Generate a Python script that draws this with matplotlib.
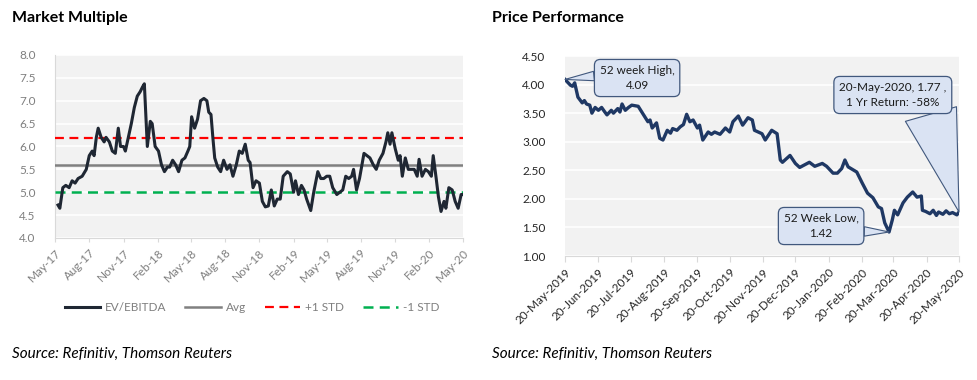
import matplotlib
matplotlib.use("Agg")
import matplotlib.pyplot as plt
import matplotlib.dates as mdates
import pandas as pd

plt.rcParams['font.family'] = ['Lato', 'DejaVu Sans']

# ---- Market multiple (EV/EBITDA)
mm_dates = [
    "2017-05-09", "2017-05-14", "2017-05-22", "2017-05-30", "2017-06-08", "2017-06-16",
    "2017-06-24", "2017-07-02", "2017-07-13", "2017-07-24", "2017-08-01", "2017-08-09",
    "2017-08-14", "2017-08-20", "2017-08-25", "2017-09-02", "2017-09-10", "2017-09-15",
    "2017-09-24", "2017-10-02", "2017-10-10", "2017-10-18", "2017-10-24", "2017-11-01",
    "2017-11-06", "2017-11-14", "2017-11-22", "2017-11-30", "2017-12-08", "2017-12-16",
    "2017-12-22", "2017-12-27", "2018-01-04", "2018-01-12", "2018-01-17", "2018-01-25",
    "2018-02-03", "2018-02-11", "2018-02-19", "2018-02-27", "2018-03-05", "2018-03-13",
    "2018-03-21", "2018-03-29", "2018-04-07", "2018-04-15", "2018-04-23", "2018-04-28",
    "2018-05-03", "2018-05-11", "2018-05-19", "2018-05-27", "2018-06-05", "2018-06-13",
    "2018-06-18", "2018-06-24", "2018-06-29", "2018-07-04", "2018-07-12", "2018-07-20",
    "2018-07-28", "2018-08-06", "2018-08-14", "2018-08-22", "2018-08-31", "2018-09-08",
    "2018-09-16", "2018-09-24", "2018-10-02", "2018-10-07", "2018-10-15", "2018-10-23",
    "2018-11-01", "2018-11-09", "2018-11-17", "2018-11-25", "2018-12-03", "2018-12-11",
    "2018-12-19", "2018-12-27", "2019-01-04", "2019-01-15", "2019-01-23", "2019-02-01",
    "2019-02-06", "2019-02-14", "2019-02-22", "2019-03-01", "2019-03-08", "2019-03-19",
    "2019-03-27", "2019-04-07", "2019-04-15", "2019-04-23", "2019-05-01", "2019-05-09",
    "2019-05-17", "2019-05-28", "2019-06-05", "2019-06-13", "2019-06-21", "2019-06-29",
    "2019-07-07", "2019-07-12", "2019-07-20", "2019-07-28", "2019-08-09", "2019-08-17",
    "2019-08-25", "2019-09-03", "2019-09-11", "2019-09-19", "2019-09-29", "2019-10-07",
    "2019-10-12", "2019-10-18", "2019-10-23", "2019-11-01", "2019-11-09", "2019-11-14",
    "2019-11-20", "2019-11-28", "2019-12-06", "2019-12-14", "2019-12-22", "2019-12-30",
    "2020-01-04", "2020-01-12", "2020-01-21", "2020-01-29", "2020-02-06", "2020-02-11",
    "2020-02-19", "2020-02-25", "2020-03-03", "2020-03-11", "2020-03-16", "2020-03-24",
    "2020-04-02", "2020-04-10", "2020-04-18", "2020-04-26", "2020-05-01",
]
ev_ebitda = [
    4.72, 4.65, 5.10, 5.15, 5.10, 5.25,
    5.20, 5.30, 5.35, 5.50, 5.80, 5.90,
    5.80, 6.20, 6.40, 6.20, 6.10, 6.20,
    6.10, 5.90, 5.85, 6.40, 6.00, 6.00,
    5.90, 6.20, 6.50, 6.85, 7.10, 7.20,
    7.30, 7.37, 6.00, 6.55, 6.50, 6.00,
    5.90, 5.60, 5.45, 5.55, 5.55, 5.70,
    5.60, 5.45, 5.70, 5.75, 5.90, 6.00,
    6.65, 6.40, 6.60, 7.00, 7.05, 7.00,
    6.75, 6.70, 6.20, 5.75, 5.55, 5.45,
    5.70, 5.50, 5.60, 5.35, 5.60, 5.90,
    5.85, 6.05, 5.70, 5.65, 5.10, 5.25,
    5.20, 4.80, 4.68, 4.70, 5.05, 4.70,
    4.85, 4.85, 5.35, 5.45, 5.40, 5.00,
    5.25, 4.95, 5.15, 5.05, 4.85, 4.60,
    5.00, 5.45, 5.30, 5.30, 5.35, 5.35,
    5.10, 4.95, 5.00, 5.05, 5.35, 5.30,
    5.35, 5.50, 5.05, 5.30, 5.85, 5.80,
    5.75, 5.60, 5.50, 5.70, 5.85, 6.10,
    6.30, 6.05, 6.30, 5.95, 5.70, 5.80,
    5.35, 5.75, 5.50, 5.50, 5.50, 5.35,
    5.72, 5.35, 5.50, 5.45, 5.35, 5.80,
    5.30, 4.90, 4.58, 4.80, 4.65, 5.10,
    5.05, 4.80, 4.65, 4.95, 4.95,
]
mm_avg = 5.60
mm_std = 0.59

# ---- Price performance
px_dates = [
    "2019-05-20", "2019-05-25", "2019-05-27", "2019-05-29", "2019-06-01", "2019-06-05",
    "2019-06-07", "2019-06-09", "2019-06-12", "2019-06-14", "2019-06-17", "2019-06-20",
    "2019-06-23", "2019-06-26", "2019-06-28", "2019-07-02", "2019-07-04", "2019-07-08",
    "2019-07-10", "2019-07-12", "2019-07-15", "2019-07-18", "2019-07-21", "2019-07-27",
    "2019-07-31", "2019-08-05", "2019-08-07", "2019-08-09", "2019-08-13", "2019-08-16",
    "2019-08-19", "2019-08-23", "2019-08-26", "2019-08-28", "2019-09-01", "2019-09-04",
    "2019-09-07", "2019-09-10", "2019-09-13", "2019-09-16", "2019-09-20", "2019-09-22",
    "2019-09-25", "2019-09-30", "2019-10-03", "2019-10-06", "2019-10-11", "2019-10-16",
    "2019-10-20", "2019-10-23", "2019-10-28", "2019-11-01", "2019-11-06", "2019-11-10",
    "2019-11-12", "2019-11-19", "2019-11-22", "2019-11-28", "2019-12-03", "2019-12-06",
    "2019-12-08", "2019-12-15", "2019-12-20", "2019-12-24", "2020-01-02", "2020-01-07",
    "2020-01-14", "2020-01-18", "2020-01-24", "2020-01-28", "2020-02-01", "2020-02-04",
    "2020-02-07", "2020-02-15", "2020-02-20", "2020-02-25", "2020-03-01", "2020-03-06",
    "2020-03-09", "2020-03-12", "2020-03-16", "2020-03-19", "2020-03-21", "2020-03-24",
    "2020-03-29", "2020-04-02", "2020-04-07", "2020-04-11", "2020-04-15", "2020-04-16",
    "2020-04-19", "2020-04-23", "2020-04-26", "2020-04-29", "2020-05-01", "2020-05-05",
    "2020-05-08", "2020-05-11", "2020-05-14", "2020-05-18", "2020-05-20",
]
price = [
    4.09, 3.99, 3.97, 4.03, 3.78, 3.68,
    3.72, 3.66, 3.64, 3.50, 3.60, 3.55,
    3.60, 3.52, 3.47, 3.55, 3.50, 3.58,
    3.52, 3.66, 3.55, 3.60, 3.64, 3.62,
    3.50, 3.35, 3.38, 3.24, 3.33, 3.06,
    3.03, 3.20, 3.15, 3.23, 3.20, 3.26,
    3.30, 3.48, 3.35, 3.38, 3.24, 3.29,
    3.03, 3.17, 3.13, 3.17, 3.13, 3.24,
    3.17, 3.35, 3.45, 3.29, 3.42, 3.38,
    3.20, 3.14, 3.03, 3.20, 3.14, 2.68,
    2.64, 2.76, 2.62, 2.55, 2.64, 2.57,
    2.62, 2.57, 2.45, 2.45, 2.53, 2.68,
    2.56, 2.47, 2.28, 2.10, 2.02, 1.86,
    1.83, 1.58, 1.42, 1.63, 1.80, 1.72,
    1.93, 2.03, 2.12, 2.03, 2.05, 1.80,
    1.78, 1.74, 1.80, 1.71, 1.77, 1.73,
    1.79, 1.74, 1.76, 1.72, 1.77,
]
high_date, high_val = "2019-05-20", 4.09
low_date, low_val = "2020-03-16", 1.42
last_date, last_val = "2020-05-20", 1.77
yr_return = "-58%"

mm_x = pd.to_datetime(mm_dates)
px_x = pd.to_datetime(px_dates)

fig = plt.figure(figsize=(9.77, 3.8), dpi=100)
bg = '#f2f2f2'

# ---------------- left chart
ax1 = fig.add_axes([0.0563, 0.3737, 0.4176, 0.4816])
ax1.set_facecolor(bg)
ax1.plot(mm_x, ev_ebitda, color='#1f2733', lw=2.2, label='EV/EBITDA', zorder=4)
ax1.axhline(mm_avg, color='#808080', lw=1.8, label='Avg', zorder=3)
ax1.axhline(mm_avg + mm_std, color='#ff0000', lw=1.6, ls=(0, (4, 2.5)), label='+1 STD', zorder=3)
ax1.axhline(mm_avg - mm_std, color='#00b050', lw=1.8, ls=(0, (4, 2.5)), label='-1 STD', zorder=3)
ax1.set_ylim(4.0, 8.0)
ax1.set_yticks([4.0, 4.5, 5.0, 5.5, 6.0, 6.5, 7.0, 7.5, 8.0])
ax1.yaxis.set_major_formatter(matplotlib.ticker.FormatStrFormatter('%.1f'))
ax1.set_xlim(pd.Timestamp("2017-05-01"), pd.Timestamp("2020-05-01"))
ax1.xaxis.set_major_locator(mdates.MonthLocator(bymonth=[2, 5, 8, 11]))
ax1.xaxis.set_major_formatter(mdates.DateFormatter('%b-%y'))
ax1.grid(axis='y', color='white', lw=1.2)
ax1.set_axisbelow(True)
for s in ['top', 'right']:
    ax1.spines[s].set_visible(False)
ax1.spines['left'].set_color('#d9d9d9')
ax1.spines['bottom'].set_color('#d9d9d9')
ax1.tick_params(axis='y', length=0, labelsize=8.5, labelcolor='#7f7f7f', pad=14)
ax1.tick_params(axis='x', length=3, color='#d9d9d9', labelsize=8.5, labelcolor='#7f7f7f')
for lab in ax1.get_xticklabels():
    lab.set_rotation(45)
    lab.set_ha('right')
    lab.set_rotation_mode('anchor')
leg = fig.legend(*ax1.get_legend_handles_labels(), loc='center', ncol=4, frameon=False,
                 bbox_to_anchor=(0.258, 0.19), fontsize=8.5, handlelength=3.0,
                 columnspacing=1.6, handletextpad=0.4)
for t in leg.get_texts():
    t.set_color('#7f7f7f')

# ---------------- right chart
ax2 = fig.add_axes([0.5783, 0.3263, 0.4033, 0.5263])
ax2.set_facecolor(bg)
ax2.plot(px_x, price, color='#1f3864', lw=2.4, zorder=4)
ax2.set_ylim(1.0, 4.5)
ax2.set_yticks([1.0, 1.5, 2.0, 2.5, 3.0, 3.5, 4.0, 4.5])
ax2.yaxis.set_major_formatter(matplotlib.ticker.FormatStrFormatter('%.2f'))
ax2.set_xlim(pd.Timestamp("2019-05-20"), pd.Timestamp("2020-05-20"))
ax2.xaxis.set_major_locator(mdates.MonthLocator(bymonthday=20))
ax2.xaxis.set_major_formatter(mdates.DateFormatter('%d-%b-%Y'))
ax2.grid(axis='y', color='white', lw=1.2)
ax2.set_axisbelow(True)
for s in ['top', 'right', 'left']:
    ax2.spines[s].set_visible(False)
ax2.spines['bottom'].set_color('#d9d9d9')
ax2.tick_params(axis='y', length=0, labelsize=8.5, labelcolor='#262626', pad=14)
ax2.tick_params(axis='x', length=4, color='#d9d9d9', labelsize=8.5, labelcolor='#262626')
for lab in ax2.get_xticklabels():
    lab.set_rotation(45)
    lab.set_ha('right')
    lab.set_rotation_mode('anchor')

box = dict(boxstyle='round,pad=0.45,rounding_size=0.5', fc='#dae3f3', ec='#41587d', lw=0.9)


def callout(text, xy, xytext, rel, tw):
    ax2.annotate(text, xy=xy, xytext=xytext, textcoords='axes fraction',
                 ha='center', va='center', fontsize=8.5, color='#1a1a1a', bbox=box,
                 linespacing=1.5, zorder=6,
                 arrowprops=dict(arrowstyle='wedge,tail_width=%s,shrink_factor=0.5' % tw,
                                 fc='#dae3f3', ec='#41587d', lw=0.8, shrinkA=0, shrinkB=0,
                                 relpos=rel))


callout('52 week High,\n%.2f' % high_val, (pd.Timestamp(high_date), high_val), (0.183, 0.89), (0.0, 0.6), 0.8)
callout('%s, %.2f ,\n1 Yr Return: %s' % (pd.Timestamp(last_date).strftime('%d-%b-%Y'), last_val, yr_return),
        (pd.Timestamp(last_date), last_val), (0.832, 0.805), (0.84, 0.0), 4.5)
callout('52 Week Low,\n%.2f' % low_val, (pd.Timestamp(low_date), low_val), (0.65, 0.15), (1.0, 0.3), 0.8)

# ---------------- titles and sources
fig.text(12 / 977, 1 - 18 / 380, 'Market Multiple', fontsize=11.5, fontweight='bold', va='center')
fig.text(492 / 977, 1 - 18 / 380, 'Price Performance', fontsize=11.5, fontweight='bold', va='center')
fig.text(12 / 977, 1 - 354 / 380, 'Source: Refinitiv, Thomson Reuters', fontsize=11,
         style='italic', va='center')
fig.text(492 / 977, 1 - 354 / 380, 'Source: Refinitiv, Thomson Reuters', fontsize=11,
         style='italic', va='center')

fig.savefig('out.png', dpi=100)
